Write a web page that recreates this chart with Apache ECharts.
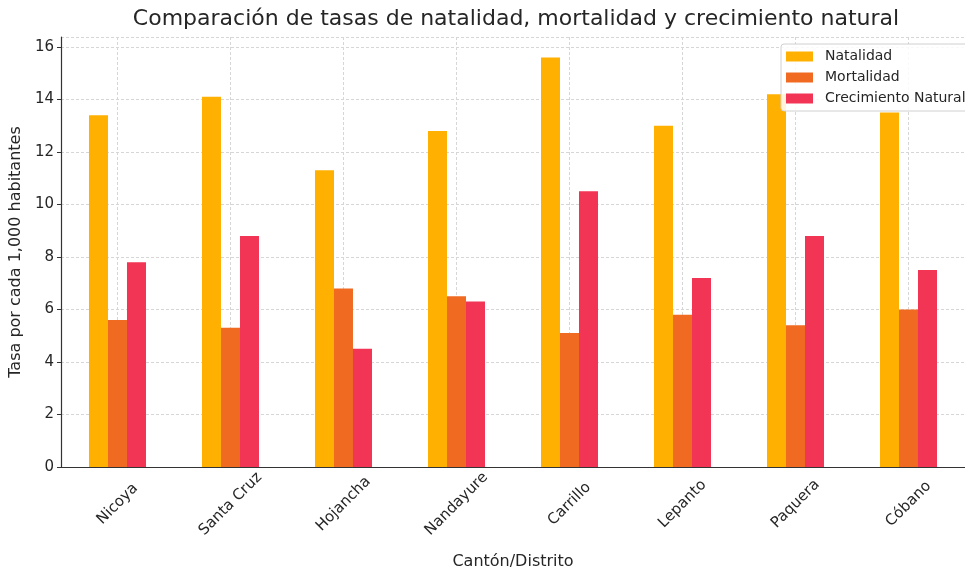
<!DOCTYPE html>
<html>
<head>
<meta charset="utf-8">
<script src="https://cdn.jsdelivr.net/npm/echarts@6/dist/echarts.min.js"></script>
<style>html,body{margin:0;padding:0;background:#fff;}#c{width:965px;height:575px;}</style>
</head>
<body>
<div id="c"></div>
<script>
const categories = ['Nicoya', 'Santa Cruz', 'Hojancha', 'Nandayure', 'Carrillo', 'Lepanto', 'Paquera', 'Cóbano'];
const natalidad = [13.4, 14.1, 11.3, 12.8, 15.6, 13.0, 14.2, 13.5];
const mortalidad = [5.6, 5.3, 6.8, 6.5, 5.1, 5.8, 5.4, 6.0];
const crecimiento = [7.8, 8.8, 4.5, 6.3, 10.5, 7.2, 8.8, 7.5];
const seriesNames = ['Natalidad', 'Mortalidad', 'Crecimiento Natural'];
const yTicks = [0, 2, 4, 6, 8, 10, 12, 14, 16];

const FONT = 'DejaVu Sans';
const chart = echarts.init(document.getElementById('c'), null, {renderer: 'canvas'});
const colors = ['#FFB000', '#F06A22', '#F23455'];
const vals = [natalidad, mortalidad, crecimiento];

chart.setOption({
  animation: false,
  backgroundColor: '#ffffff',
  title: {
    text: 'Comparación de tasas de natalidad, mortalidad y crecimiento natural',
    left: 516, textAlign: 'center', top: 8, padding: 0,
    textStyle: {fontFamily: FONT, fontSize: 22, fontWeight: 'normal', color: '#262626'}
  },
  legend: {
    data: seriesNames,
    orient: 'vertical',
    left: 781, top: 44,
    padding: [4, 6, 4, 5],
    itemWidth: 27, itemHeight: 10, itemGap: 4,
    icon: 'rect',
    backgroundColor: 'rgba(255,255,255,0.85)',
    borderColor: '#d0d0d0', borderWidth: 1, borderRadius: 3,
    textStyle: {fontFamily: FONT, fontSize: 14, lineHeight: 17, color: '#262626', padding: [0, 0, 0, 7]}
  },
  grid: {left: 60, right: -8, top: 37, bottom: 100, containLabel: false},
  xAxis: {
    type: 'category',
    data: categories,
    name: 'Cantón/Distrito',
    nameLocation: 'middle',
    nameGap: 87,
    nameTextStyle: {fontFamily: FONT, fontSize: 16, color: '#262626'},
    axisLine: {lineStyle: {color: '#333', width: 1.2}},
    axisTick: {alignWithLabel: true, length: 4, lineStyle: {color: '#333'}},
    axisLabel: {
      rotate: 45, align: 'center', verticalAlign: 'middle', margin: 37,
      fontFamily: FONT, fontSize: 15, color: '#262626', interval: 0
    },
    splitLine: {show: true, alignWithLabel: true, lineStyle: {color: '#d6d6d6', type: [3, 2], width: 1}}
  },
  yAxis: {
    type: 'value',
    min: 0, max: 16.38, interval: 2,
    name: 'Tasa por cada 1,000 habitantes',
    nameLocation: 'middle',
    nameGap: 31,
    nameTextStyle: {fontFamily: FONT, fontSize: 16, color: '#262626'},
    axisLine: {show: true, lineStyle: {color: '#333', width: 1.2}},
    axisTick: {show: true, length: 4, lineStyle: {color: '#333'}},
    axisLabel: {
      showMaxLabel: false, margin: 7,
      fontFamily: FONT, fontSize: 15, color: '#262626',
      formatter: v => (yTicks.indexOf(v) >= 0 ? String(v) : '')
    },
    splitLine: {show: true, lineStyle: {color: '#d6d6d6', type: [3, 2], width: 1}}
  },
  series: seriesNames.map((n, i) => ({
    name: n, type: 'bar', data: vals[i],
    barWidth: 19, barGap: '0%',
    itemStyle: {color: colors[i]}
  }))
});
</script>
</body>
</html>
